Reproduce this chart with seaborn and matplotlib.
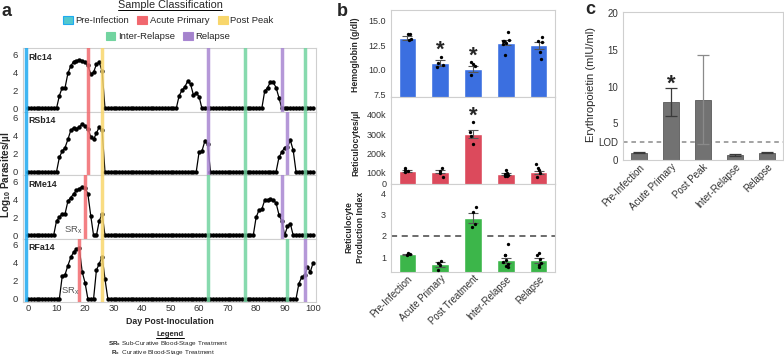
import matplotlib
matplotlib.use('Agg')
import matplotlib.pyplot as plt
import matplotlib.patches as mpatches
from matplotlib.lines import Line2D
import numpy as np
import pandas as pd
import seaborn as sns

sns.set_style('white')
plt.rcParams['font.family'] = ['Liberation Sans', 'DejaVu Sans']
plt.rcParams['mathtext.fontset'] = 'custom'
plt.rcParams['mathtext.rm'] = 'Liberation Sans'
plt.rcParams['mathtext.bf'] = 'Liberation Sans:bold'
plt.rcParams['mathtext.it'] = 'Liberation Sans:italic'
np.random.seed(4)

# ---------------- panel a data (log10 parasites/ul, daily samples) ----------------
days = np.arange(0, 101)
monkeys = ['Rlc14', 'RSb14', 'RMe14', 'RFa14']

# (first day, values) for each patent episode; all other days are 0
rlc14_episodes = [(11, [1.4, 2.3, 2.3, 3.9, 4.7, 5.2, 5.3, 5.4, 5.3, 5.1, 4.8, 3.8, 4.0, 4.9, 5.1, 4.1]),
                  (53, [1.4, 2.0, 2.4, 3.0, 2.7, 1.5, 1.7, 1.3]),
                  (83, [1.9, 2.3, 2.9, 2.9, 2.3, 1.2])]
rsb14_episodes = [(11, [1.6, 2.3, 2.7, 3.6, 4.6, 4.9, 4.8, 5.0, 5.3, 5.1, 4.8, 3.9, 3.6, 4.3, 5.0, 4.6]),
                  (60, [2.2, 2.3, 3.4, 3.1]),
                  (88, [1.6, 2.2, 2.7, 2.8, 3.5, 2.4])]
rme14_episodes = [(10, [1.6, 2.0, 2.4, 2.4, 3.8, 4.2, 4.6, 5.0, 5.2, 5.4, 5.3, 4.6, 2.2]),
                  (25, [1.6, 2.4]),
                  (80, [2.0, 2.8, 2.9, 3.9, 3.9, 4.0, 3.9, 3.6, 2.3, 1.6]),
                  (91, [1.0, 1.3])]
rfa14_episodes = [(12, [2.5, 2.7, 3.7, 4.6, 5.2, 5.5, 5.6, 3.0, 1.8]),
                  (24, [3.2, 3.9, 4.7, 2.2]),
                  (95, [1.7, 2.4, 2.6, 3.5, 3.0, 4.0])]

# sample days and their classification
rlc14_samples = [(-0.8, 'pre'), (21, 'acute'), (26, 'post'), (63, 'relapse'), (76, 'inter'), (89, 'relapse'), (97, 'inter')]
rsb14_samples = [(-0.8, 'pre'), (21, 'acute'), (26, 'post'), (63, 'relapse'), (76, 'inter'), (91, 'relapse'), (97, 'inter')]
rme14_samples = [(-0.8, 'pre'), (20, 'acute'), (26, 'post'), (63, 'inter'), (76, 'inter'), (89, 'relapse'), (97, 'inter')]
rfa14_samples = [(-0.8, 'pre'), (18, 'acute'), (26, 'post'), (63, 'inter'), (76, 'inter'), (91, 'inter'), (97, 'relapse')]

# sub-curative treatment labels (monkey index, day, value)
srx_marks = [(2, 16, 0.6), (3, 15, 0.8)]

phase_names = {'pre': 'Pre-Infection', 'acute': 'Acute Primary', 'post': 'Post Peak',
               'inter': 'Inter-Relapse', 'relapse': 'Relapse'}
phase_colors = {'pre': '#1eaaf0', 'acute': '#f26a6e', 'post': '#f8d66c',
                'inter': '#72d4a0', 'relapse': '#a886d2'}
patch_colors = {'pre': '#52c8cf', 'acute': '#f0676f', 'post': '#f8d66c',
                'inter': '#72d4a0', 'relapse': '#a483cc'}

# ---------------- panel b data ----------------
cats_b = ['Pre-Infection', 'Acute Primary', 'Post Treatment', 'Inter-Relapse', 'Relapse']
hgb_mean = [13.25, 10.7, 10.1, 12.75, 12.5]
hgb_sem = [0.2, 0.3, 0.3, 0.25, 0.35]
hgb_pts = [[13.6, 13.6, 13.1, 13.0],
           [11.25, 10.65, 10.45, 10.3],
           [10.75, 10.55, 10.35, 9.4],
           [13.8, 13.0, 12.9, 12.75, 12.6, 11.45, 12.9],
           [13.3, 12.9, 12.85, 11.85, 11.1]]

retic_mean = [109e3, 105e3, 300e3, 93e3, 102e3]
retic_sem = [5e3, 8e3, 22e3, 6e3, 8e3]
retic_pts = [[123e3, 112e3, 108e3, 104e3],
             [126e3, 110e3, 100e3, 76e3],
             [364e3, 312e3, 292e3, 250e3],
             [114e3, 97e3, 92e3, 88e3, 85e3, 83e3, 90e3],
             [143e3, 123e3, 114e3, 100e3, 79e3]]

rpi_mean = [1.13, 0.66, 2.86, 0.86, 0.86]
rpi_sem = [0.03, 0.1, 0.24, 0.12, 0.12]
rpi_pts = [[1.18, 1.17, 1.15, 1.12],
           [0.81, 0.73, 0.62, 0.39],
           [3.36, 3.13, 2.58, 2.42],
           [1.61, 1.09, 1.09, 0.89, 0.70, 0.52, 0.59, 0.78],
           [1.2, 1.1, 0.9, 0.75, 0.55, 0.65]]
rpi_threshold = 2

# ---------------- panel c data ----------------
cats_c = ['Pre-Infection', 'Acute Primary', 'Post Peak', 'Inter-Relapse', 'Relapse']
epo_mean = [1.0, 7.9, 8.2, 0.68, 1.0]
epo_err = [0.05, 1.85, 6.05, 0.2, 0.05]
epo_lod = 2.45

W, H = 784, 358
fig = plt.figure(figsize=(W / 100, H / 100), dpi=100)


def px_axes(l, t, r, b):
    return fig.add_axes([l / W, 1 - b / H, (r - l) / W, (b - t) / H])


def style_frame(ax, size=6):
    for s in ax.spines.values():
        s.set_color('#cfcfcf')
        s.set_linewidth(0.8)
    ax.tick_params(colors='#333333', labelsize=size, length=2, width=0.6, pad=1.5)
    ax.tick_params(axis='y', color='#888888')


def build_series(episodes):
    vals = np.zeros(len(days))
    for start, v in episodes:
        vals[start:start + len(v)] = v
    return vals


# ---------------- panel a ----------------
episodes_all = [rlc14_episodes, rsb14_episodes, rme14_episodes, rfa14_episodes]
samples_all = [rlc14_samples, rsb14_samples, rme14_samples, rfa14_samples]
row_tops = [48, 111.5, 175, 238.5]
axes_a = []
for i, name in enumerate(monkeys):
    ax = px_axes(23, row_tops[i], 316, row_tops[i] + 63.5)
    df = pd.DataFrame({'day': days, 'log': build_series(episodes_all[i])})
    sns.lineplot(data=df, x='day', y='log', color='black', lw=0.9, marker='o',
                 markersize=3.2, markeredgewidth=0, ax=ax, zorder=2)
    for d, ph in samples_all[i]:
        ax.axvline(d, color=phase_colors[ph], lw=2.5, alpha=0.85, zorder=3)
    ax.set_xlim(-1.75, 101)
    ax.set_ylim(-0.35, 6.7)
    ax.set_yticks([0, 2, 4, 6])
    ax.set_xticks(range(0, 101, 10))
    ax.set_xlabel('')
    ax.set_ylabel('')
    style_frame(ax, 6.8)
    ax.tick_params(axis='x', length=0)
    if i < 3:
        ax.tick_params(labelbottom=False)
    ax.annotate(name, xy=(0, 1), xycoords='axes fraction', xytext=(4, -3.5),
                textcoords='offset points', ha='left', va='top', fontsize=6.4,
                fontweight='bold')
    axes_a.append(ax)

for i, d, v in srx_marks:
    axes_a[i].text(d, v, r'SR$_{\mathregular{x}}$', ha='center', va='center',
                   fontsize=6.8, color='#555555', zorder=4)

fig.text(170 / W, 1 - 322 / H, 'Day Post-Inoculation', ha='center', va='center',
         fontsize=6.3, fontweight='bold')
fig.text(6 / W, 1 - 175 / H, r'$\mathbf{Log_{10}}$ Parasites/µl', rotation=90,
         ha='center', va='center', fontsize=7.2, fontweight='bold')

# legend of sample classes
t_title = fig.text(170 / W, 1 - 5 / H, 'Sample Classification', ha='center', va='center',
                   fontsize=7.8)
row1 = [mpatches.Patch(facecolor=patch_colors[k], edgecolor=phase_colors[k], lw=0.8,
                       label=phase_names[k]) for k in ['pre', 'acute', 'post']]
row2 = [mpatches.Patch(facecolor=patch_colors[k], edgecolor=phase_colors[k], lw=0.8,
                       label=phase_names[k]) for k in ['inter', 'relapse']]
for handles, y in [(row1, 20.5), (row2, 36.5)]:
    fig.legend(handles=handles, loc='center', bbox_to_anchor=(168 / W, 1 - y / H), ncol=3,
               frameon=False, fontsize=6.8, handlelength=1.05, handleheight=1.0,
               handletextpad=0.25, columnspacing=0.9, borderpad=0)

t_leg = fig.text(170 / W, 1 - 334.5 / H, 'Legend', ha='center', va='center', fontsize=5.5,
                 fontweight='bold')
fig.text(168 / W, 1 - 344 / H, r'$\mathbf{SR_x}$ Sub-Curative Blood-Stage Treatment',
         ha='center', va='center', fontsize=4.6)
fig.text(163 / W, 1 - 352.5 / H, r'$\mathbf{R_x}$  Curative Blood-Stage Treatment',
         ha='center', va='center', fontsize=4.6)

# panel letters
for letter, x, y in [('a', 7, 11), ('b', 342, 12), ('c', 590, 9)]:
    fig.text(x / W, 1 - y / H, letter, ha='center', va='center', fontsize=13,
             fontweight='bold')


# ---------------- panel b ----------------
def long_df(cats, pts):
    rows = [(c, v) for c, vs in zip(cats, pts) for v in vs]
    return pd.DataFrame(rows, columns=['cat', 'val'])


def bar_panel(ax, cats, mean, sem, pts, color, ecolor='#555555'):
    sns.barplot(x=cats, y=mean, color=color, width=0.54, saturation=1, errorbar=None,
                ax=ax, zorder=2)
    ax.errorbar(np.arange(len(cats)), mean, yerr=sem, fmt='none', ecolor=ecolor,
                elinewidth=0.8, capsize=3.5, capthick=0.8, zorder=4)
    sns.stripplot(data=long_df(cats, pts), x='cat', y='val', order=cats, color='black',
                  size=2.4, jitter=0.1, ax=ax, zorder=5)
    ax.set_xlim(-0.5, len(cats) - 0.5)
    ax.set_xlabel('')
    ax.set_ylabel('')
    style_frame(ax, 6.5)


ax_hgb = px_axes(391, 10, 555, 97)
bar_panel(ax_hgb, cats_b, hgb_mean, hgb_sem, hgb_pts, '#3b6fe0')
ax_hgb.set_ylim(7.2, 16.1)
ax_hgb.set_yticks([7.5, 10, 12.5, 15])
ax_hgb.set_yticklabels(['7.5', '10.0', '12.5', '15.0'])
ax_hgb.tick_params(labelbottom=False, bottom=False)
for xi, yv in [(1, 12.0), (2, 11.4)]:
    ax_hgb.text(xi, yv, '*', ha='center', va='center', fontsize=16, fontweight='bold')

ax_ret = px_axes(391, 97, 555, 184)
bar_panel(ax_ret, cats_b, retic_mean, retic_sem, retic_pts, '#dc4a5c')
ax_ret.set_ylim(41.5e3, 493e3)
ax_ret.set_yticks([44e3, 100e3, 200e3, 300e3, 400e3])
ax_ret.set_yticklabels(['0', '100k', '200k', '300k', '400k'])
ax_ret.tick_params(labelbottom=False, bottom=False)
ax_ret.text(2, 395e3, '*', ha='center', va='center', fontsize=16, fontweight='bold')

ax_rpi = px_axes(391, 184, 555, 271.7)
bar_panel(ax_rpi, cats_b, rpi_mean, rpi_sem, rpi_pts, '#3cb64a')
ax_rpi.axhline(rpi_threshold, color='#444444', lw=1.1, ls=(0, (4, 3)), zorder=1)
ax_rpi.set_ylim(0.32, 4.44)
ax_rpi.set_yticks([1, 2, 3, 4])
ax_rpi.tick_params(axis='x', length=0, labelsize=6.9)
plt.setp(ax_rpi.get_xticklabels(), rotation=45, ha='right', rotation_mode='anchor')

fig.text(356 / W, 1 - 55 / H, 'Hemoglobin (g/dl)', rotation=90, ha='center', va='center',
         fontsize=6.2, fontweight='bold')
fig.text(356 / W, 1 - 143 / H, 'Reticulocytes/µl', rotation=90, ha='center', va='center',
         fontsize=6.2, fontweight='bold')
fig.text(355 / W, 1 - 227 / H, 'Reticulocyte\nProduction Index', rotation=90, ha='center',
         va='center', fontsize=6.2, fontweight='bold', linespacing=1.35)

# ---------------- panel c ----------------
ax_epo = px_axes(623, 11.7, 783, 160)
sns.barplot(x=cats_c, y=epo_mean, color='#727272', width=0.53, saturation=1, errorbar=None,
            ax=ax_epo, zorder=2, edgecolor='#5a5a5a', lw=0.6)
err_cols = ['#3a3a3a', '#3a3a3a', '#8a8a8a', '#3a3a3a', '#3a3a3a']
for xi, (m, e, ec) in enumerate(zip(epo_mean, epo_err, err_cols)):
    ax_epo.errorbar(xi, m, yerr=e, fmt='none', ecolor=ec, elinewidth=0.9, capsize=4.5,
                    capthick=0.9, zorder=4)
ax_epo.axhline(epo_lod, color='#8a8a8a', lw=1.1, ls=(0, (3, 2.5)), zorder=1)
ax_epo.set_xlim(-0.5, 4.5)
ax_epo.set_ylim(0, 20.2)
ax_epo.set_yticks([0, epo_lod, 5, 10, 15, 20])
ax_epo.set_yticklabels(['0', 'LOD', '5', '10', '15', '20'])
ax_epo.set_xlabel('')
ax_epo.set_ylabel('')
style_frame(ax_epo, 7)
ax_epo.tick_params(axis='x', length=0, labelsize=7)
plt.setp(ax_epo.get_xticklabels(), rotation=45, ha='right', rotation_mode='anchor')
ax_epo.text(1, 10.3, '*', ha='center', va='center', fontsize=16, fontweight='bold')
fig.text(591 / W, 1 - 85 / H, 'Erythropoietin (mIU/ml)', rotation=90, ha='center',
         va='center', fontsize=8)

# underline titles
fig.canvas.draw()
renderer = fig.canvas.get_renderer()
for t in [t_title, t_leg]:
    bb = t.get_window_extent(renderer)
    fig.add_artist(Line2D([bb.x0 / W, bb.x1 / W], [(bb.y0 + 0.5) / H] * 2,
                          color='black', lw=0.7))

fig.savefig('out.png', dpi=100)
